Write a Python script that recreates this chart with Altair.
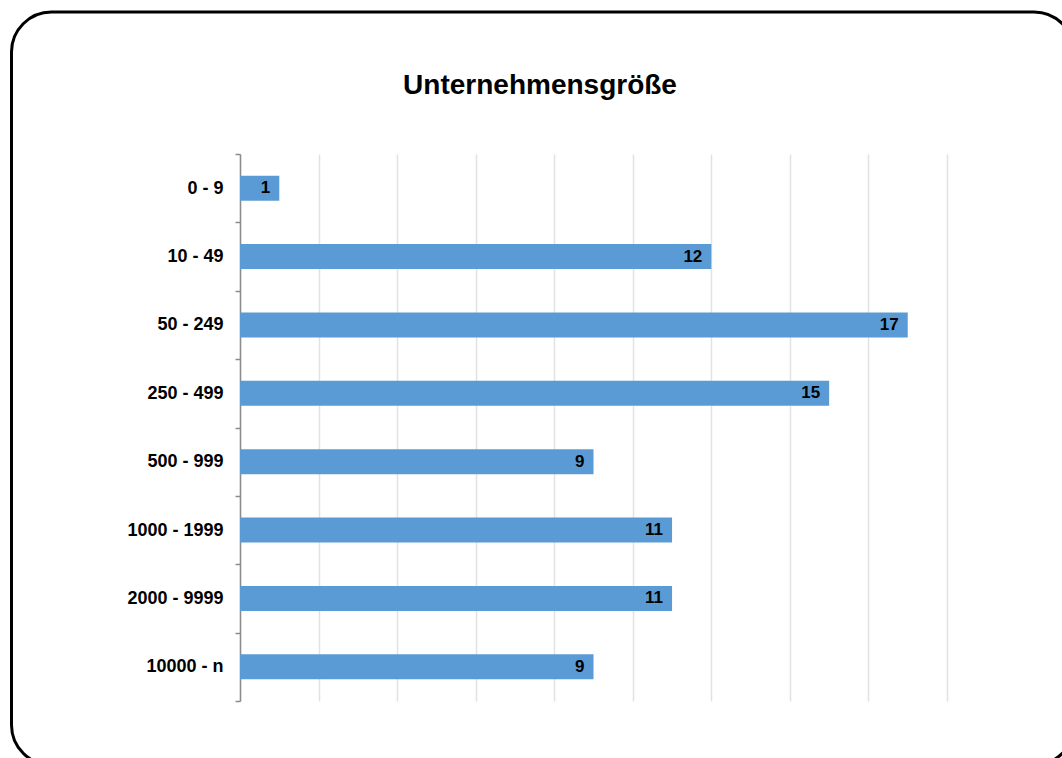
import altair as alt
import pandas as pd

# Companies by size class (number of employees)
categories = ["0 - 9", "10 - 49", "50 - 249", "250 - 499",
              "500 - 999", "1000 - 1999", "2000 - 9999", "10000 - n"]
counts = [1, 12, 17, 15, 9, 11, 11, 9]
grid_values = [0, 2, 4, 6, 8, 10, 12, 14, 16, 18]
x_domain = [0, 18]
title_text = "Unternehmensgröße"

df = pd.DataFrame({"size": categories, "count": counts})

FONT = "Liberation Sans"
BAR_BLUE = "#5b9bd5"
AXIS_GREY = "#8c8c8c"

PLOT_W, PLOT_H = 707, 547
PAD = {"left": 240, "top": 154, "right": 115, "bottom": 57}

y_enc = alt.Y(
    "size:N", sort=categories, title=None,
    scale=alt.Scale(paddingInner=0, paddingOuter=0),
    axis=alt.Axis(
        labelFont=FONT, labelFontSize=18, labelFontWeight="bold",
        labelColor="black", labelPadding=12,
        tickBand="extent", tickSize=5, tickColor=AXIS_GREY, tickWidth=1.5,
        domainColor=AXIS_GREY, domainWidth=1.5, grid=False,
    ),
)
x_enc = alt.X(
    "count:Q", title=None,
    scale=alt.Scale(domain=x_domain, nice=False, zero=True),
    axis=alt.Axis(values=grid_values, labels=False, ticks=False, domain=False,
                  grid=True, gridColor="#e2e2e2", gridWidth=1.5),
)

# rounded outer frame around the whole figure
frame = alt.Chart(pd.DataFrame({"k": [0]})).mark_rect(
    cornerRadius=40, filled=False, stroke="black", strokeWidth=3,
).encode(
    x=alt.value(11.5 - PAD["left"]), x2=alt.value(1074 - PAD["left"]),
    y=alt.value(12 - PAD["top"]), y2=alt.value(765 - PAD["top"]),
)

bars = alt.Chart(df).mark_bar(
    color=BAR_BLUE, height=alt.RelativeBandSize(0.365),
).encode(x=x_enc, y=y_enc)

values = alt.Chart(df).mark_text(
    align="right", baseline="middle", dx=-9,
    font=FONT, fontSize=17, fontWeight="bold", color="black",
).encode(
    x="count:Q",
    y=alt.Y("size:N", sort=categories),
    text="count:Q",
)

title = alt.Chart(pd.DataFrame({"k": [0]})).mark_text(
    align="center", baseline="alphabetic",
    font=FONT, fontSize=28, fontWeight="bold", color="black",
).encode(
    x=alt.value(540 - PAD["left"]), y=alt.value(94 - PAD["top"]),
    text=alt.value(title_text),
)

chart = alt.layer(frame, bars, values, title).properties(
    width=PLOT_W, height=PLOT_H, padding=PAD,
    autosize=alt.AutoSizeParams(type="none"),
    background="white",
).configure_view(stroke=None)

chart.save("out.html", embed_options={"renderer": "svg", "actions": False})
